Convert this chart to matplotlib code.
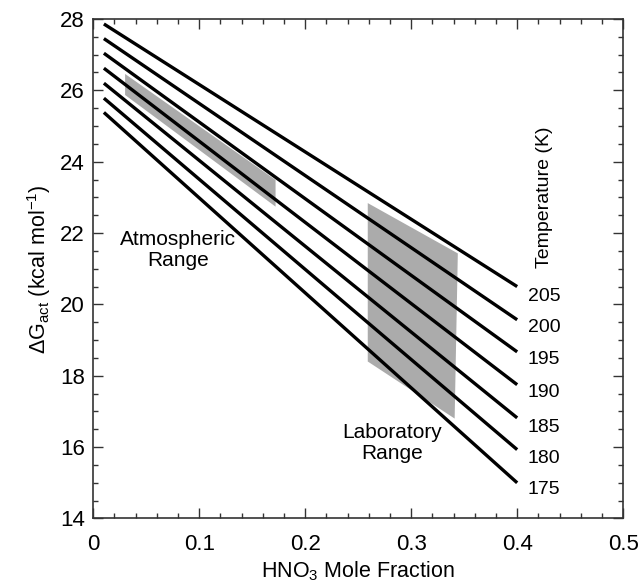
import matplotlib
matplotlib.use("Agg")
import matplotlib.pyplot as plt
from matplotlib.ticker import MultipleLocator

plt.rcParams['font.family'] = ['Liberation Sans', 'DejaVu Sans']
plt.rcParams['mathtext.fontset'] = 'custom'
plt.rcParams['mathtext.rm'] = 'Liberation Sans'
plt.rcParams['mathtext.it'] = 'Liberation Sans:italic'
plt.rcParams['mathtext.default'] = 'regular'

# Data
temperatures = [205, 200, 195, 190, 185, 180, 175]
x_line = [0.01, 0.40]
dg_start = [27.86, 27.45, 27.04, 26.62, 26.20, 25.78, 25.38]
dg_end = [20.50, 19.57, 18.67, 17.75, 16.82, 15.93, 15.00]

atm_x = [0.030, 0.172, 0.172, 0.030]
atm_y = [26.46, 23.49, 22.74, 25.87]
lab_x = [0.259, 0.344, 0.341, 0.259]
lab_y = [22.84, 21.43, 16.80, 18.40]

label_y = [20.22, 19.34, 18.45, 17.52, 16.55, 15.67, 14.80]

fig = plt.figure(figsize=(6.43, 5.84), dpi=100)
ax = fig.add_axes([0.1451, 0.1122, 0.824, 0.8553])

ax.fill(atm_x, atm_y, color='#ababab', lw=0, zorder=1)
ax.fill(lab_x, lab_y, color='#ababab', lw=0, zorder=1)

for t, y0, y1, ly in zip(temperatures, dg_start, dg_end, label_y):
    ax.plot(x_line, [y0, y1], color='black', lw=2.4, solid_capstyle='butt', zorder=3)
    ax.text(0.410, ly, str(t), fontsize=14, ha='left', va='center')

ax.text(0.080, 21.53, 'Atmospheric\nRange', fontsize=15, ha='center', va='center', linespacing=1.1)
ax.text(0.282, 16.12, 'Laboratory\nRange', fontsize=15, ha='center', va='center', linespacing=1.15)
ax.text(0.426, 23.0, 'Temperature (K)', fontsize=14, rotation=90, ha='center', va='center')

ax.set_xlim(0, 0.5)
ax.set_ylim(14, 28)
ax.xaxis.set_minor_locator(MultipleLocator(0.02))
ax.yaxis.set_major_locator(MultipleLocator(2))
ax.yaxis.set_minor_locator(MultipleLocator(0.5))
ax.set_xticks([0, 0.1, 0.2, 0.3, 0.4, 0.5])
ax.set_xticklabels(['0', '0.1', '0.2', '0.3', '0.4', '0.5'])

ax.tick_params(which='both', direction='in', top=True, right=True, width=1.0, colors='#333333', labelcolor='black')
ax.tick_params(which='major', length=7, labelsize=16)
ax.tick_params(which='minor', length=3.5)
ax.tick_params(axis='x', which='major', pad=11)
ax.tick_params(axis='y', which='major', pad=6)
for s in ax.spines.values():
    s.set_linewidth(1.2)
    s.set_color('#333333')

ax.set_xlabel('HNO$_3$ Mole Fraction', fontsize=15.5, labelpad=3)
ax.set_ylabel(r'$\Delta$G$_{act}$ (kcal mol$^{-1}$)', fontsize=15.5, labelpad=5)

fig.savefig('out.png', dpi=100)
